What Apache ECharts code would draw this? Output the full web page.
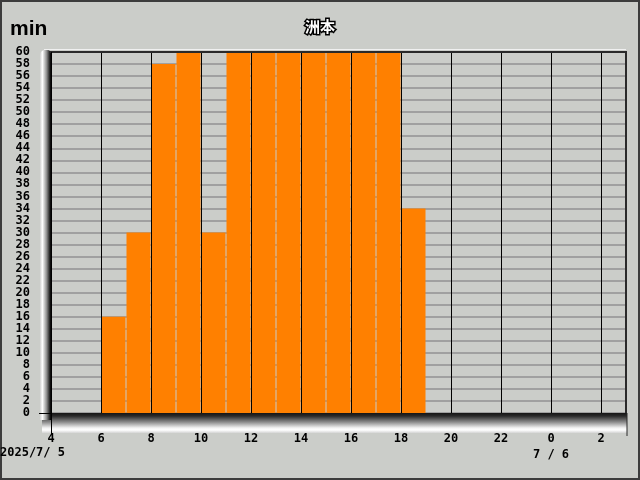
<!DOCTYPE html>
<html><head><meta charset="utf-8">
<script src="https://cdn.jsdelivr.net/npm/echarts@6/dist/echarts.min.js"></script>
<style>html,body{margin:0;padding:0;background:#cbcdc9}#c{width:640px;height:480px}</style>
</head><body><div id="c"></div>
<script>
const title = '洲本';
const unit = 'min';
const hours = [4,5,6,7,8,9,10,11,12,13,14,15,16,17,18,19,20,21,22,23,24,25,26];
const minutes = [0,0,16,30,58,60,30,60,60,60,60,60,60,60,34,0,0,0,0,0,0,0,0];
const dateLabels = ['2025/7/ 5', '7 / 6'];
const gridHours = [6,8,10,12,14,16,18,20,22,24,26];

const chart = echarts.init(document.getElementById('c'), null, {renderer:'canvas'});
const labelFont = {fontFamily:'DejaVu Sans Mono', fontWeight:'bold', fontSize:12, color:'#000'};
const L=51, R=626, T=52, B=413;
chart.setOption({
  animation:false,
  backgroundColor:'#cbcdc9',
  title:{text:title, left:'center', top:14,
    textStyle:{fontFamily:'Noto Sans CJK JP', fontWeight:'bold', fontSize:15, color:'#fff', textBorderColor:'#000', textBorderWidth:3}},
  grid:{left:L, right:640-R, top:T, bottom:480-B, show:true, backgroundColor:'#cbcdc9', borderWidth:0},
  xAxis:{type:'value', min:4, max:27, interval:2,
    axisLine:{show:false}, axisTick:{show:false}, splitLine:{show:false},
    axisLabel:Object.assign({margin:18, showMaxLabel:false, lineHeight:16,
      formatter:v=> v===24 ? '0\n'+dateLabels[1] : String(v%24)}, labelFont)},
  yAxis:{type:'value', min:0, max:60, interval:2,
    axisLine:{show:false}, axisTick:{show:false},
    splitLine:{lineStyle:{color:'#a0a0a0', width:2}},
    axisLabel:Object.assign({margin:21, padding:[5,0,0,0]}, labelFont)},
  series:[{type:'bar', barWidth:24,
    itemStyle:{color:'#ff8000'},
    data:hours.map((h,i)=>[h+0.5, minutes[i]]),
    markLine:{silent:true, symbol:['none','none'], label:{show:false},
      lineStyle:{color:'#000', type:'solid', width:1},
      data:gridHours.map(h=>({xAxis:h}))}
  }],
  graphic:[
    {type:'rect', z:100, shape:{x:1,y:1,width:638,height:478}, style:{fill:null, stroke:'#3c3c3c', lineWidth:2}},
    {type:'text', z:100, left:10, top:19, style:{text:unit, font:'bold 21px "Liberation Sans"', fill:'#000'}},
    {type:'text', z:100, left:0, top:447, style:{text:dateLabels[0], font:'bold 12px "DejaVu Sans Mono"', fill:'#000'}},
    // floor
    {type:'rect', z:49, shape:{x:42,y:413,width:585,height:20},
      style:{fill:new echarts.graphic.LinearGradient(0,0,0,1,[{offset:0,color:'#151515'},{offset:0.15,color:'#2a2a2a'},{offset:0.45,color:'#8a8a8a'},{offset:0.75,color:'#f4f4f4'},{offset:0.85,color:'#ffffff'},{offset:1,color:'#d4d4d4'}])}},
    // left wall
    {type:'rect', z:50, shape:{x:40,y:50,width:12,height:370, r:[5,5,0,0]},
      style:{fill:new echarts.graphic.LinearGradient(0,0,1,0,[{offset:0,color:'#d0d0d0'},{offset:0.2,color:'#ffffff'},{offset:0.55,color:'#909090'},{offset:0.85,color:'#101010'},{offset:1,color:'#000'}])}},
    // top edge
    {type:'line', z:50, shape:{x1:44,y1:49.5,x2:626,y2:49.5}, style:{stroke:'#f0f0f0', lineWidth:1}},
    {type:'line', z:50, shape:{x1:50,y1:52,x2:627,y2:52}, style:{stroke:'#2a2a2a', lineWidth:2}},
    // right edge
    {type:'line', z:50, shape:{x1:626,y1:52,x2:626,y2:413}, style:{stroke:'#2a2a2a', lineWidth:2}},
    {type:'line', z:50, shape:{x1:627,y1:413,x2:627,y2:436}, style:{stroke:'#2a2a2a', lineWidth:1}},
    // axis ticks at origin
    {type:'line', z:51, shape:{x1:51.5,y1:52,x2:51.5,y2:434}, style:{stroke:'#000', lineWidth:1}},
    {type:'line', z:51, shape:{x1:39,y1:413.5,x2:52,y2:413.5}, style:{stroke:'#000', lineWidth:1}}
  ]
});
</script></body></html>
